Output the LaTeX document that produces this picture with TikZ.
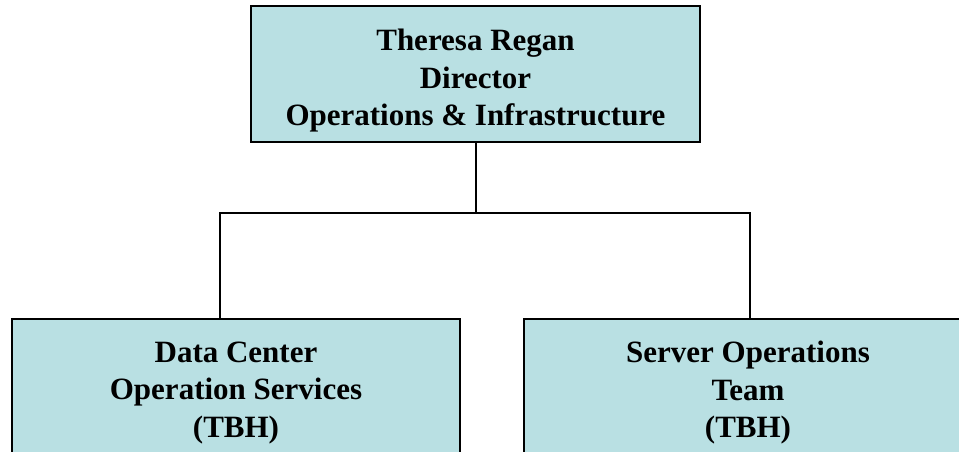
\documentclass[tikz,border=0pt]{standalone}
\usepackage{fontspec}
\setmainfont{Liberation Serif}
\definecolor{boxfill}{RGB}{185,224,227}
\tikzset{
  orgbox/.style={draw=black, line width=2pt, fill=boxfill, inner sep=0pt},
  boxtext/.style={align=center, inner sep=0pt,
    font=\fontsize{31}{37.5}\selectfont\bfseries},
  link/.style={draw=black, line width=2pt}
}
\begin{document}
\begin{tikzpicture}[x=1pt,y=-1pt]
\useasboundingbox (0,0) rectangle (959,452);
\clip (0,0) rectangle (959,452);
\node[orgbox, minimum width=449pt, minimum height=136pt] (dir) at (475.5,74) {};
\node[boxtext] (dirtext) at ([yshift=-7pt]dir.center)
  {Theresa Regan\\Director\\Operations \& Infrastructure};
\node[orgbox, minimum width=448pt, minimum height=140pt] (dc) at (236,389) {};
\node[boxtext] (dctext) at ([yshift=-4pt]dc.center)
  {Data Center\\Operation Services\\(TBH)};
\node[orgbox, minimum width=448pt, minimum height=140pt] (so) at (748,389) {};
\node[boxtext] (sotext) at ([yshift=-4pt]so.center)
  {Server Operations\\Team\\(TBH)};
\coordinate (mid) at (475.5,212.5);
\draw[link] (dir.south) -- (mid);
\draw[link] (dc.north -| 220,0) |- (mid) -| (so.north -| 750,0);
\end{tikzpicture}
\end{document}
